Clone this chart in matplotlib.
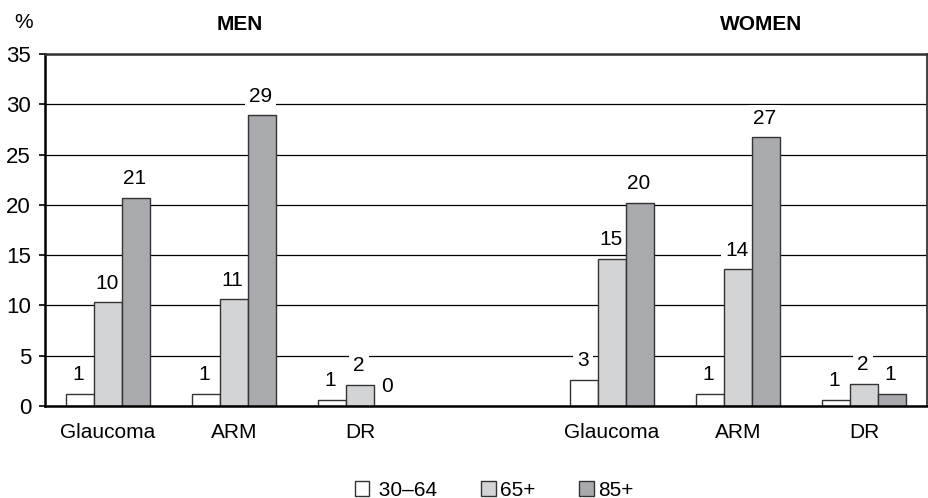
import numpy as np
import matplotlib
matplotlib.use('Agg')
import matplotlib.pyplot as plt
from matplotlib.patches import Patch

plt.rcParams['font.family'] = ['Liberation Sans', 'DejaVu Sans']

diseases = ['Glaucoma', 'ARM', 'DR']
ages = [' 30\u201364', '65+', '85+']

# prevalence (%) by age group
men_30_64 = [1.2, 1.2, 0.6]
men_65 = [10.3, 10.6, 2.1]
men_85 = [20.7, 28.9, 0.0]
women_30_64 = [2.6, 1.2, 0.6]
women_65 = [14.6, 13.6, 2.2]
women_85 = [20.2, 26.7, 1.2]

colors = ['#ffffff', '#d3d4d6', '#a9aaad']
FS = 15

def main():
    fig = plt.figure(figsize=(9.29, 4.98), dpi=100)
    ax = fig.add_axes([45/929, 1-406/498, 882/929, 352/498])

    # men at 0..2, women at 4..6 (gap of one slot between)
    x_pos = np.array([0, 1, 2, 4, 5, 6])
    series = [men_30_64 + women_30_64, men_65 + women_65, men_85 + women_85]
    w = 0.222

    for i, vals in enumerate(series):
        xs = x_pos + (i - 1) * w
        ax.bar(xs, vals, width=w, color=colors[i], edgecolor='#333333',
               linewidth=1.0, zorder=2)
        for x, v in zip(xs, vals):
            ax.annotate(f'{round(v):d}', (x, v), xytext=(-1, 7),
                        textcoords='offset points', ha='center', va='bottom',
                        fontsize=FS, zorder=1.5,
                        bbox=dict(boxstyle='square,pad=0.2', fc='white', ec='none'))

    ax.set_xlim(-0.5, 6.5)
    ax.set_ylim(0, 35)
    ax.set_yticks(range(0, 36, 5))
    ax.set_xticks(x_pos)
    ax.set_xticklabels(diseases * 2)
    ax.tick_params(axis='y', length=4, width=1.2, labelsize=16, pad=6)
    ax.tick_params(axis='x', length=0, labelsize=FS, pad=12)

    ax.set_axisbelow(True)
    ax.yaxis.grid(True, color='black', linewidth=0.9)

    ax.spines['left'].set_linewidth(1.8)
    ax.spines['bottom'].set_linewidth(1.8)
    ax.spines['top'].set_linewidth(1.8)
    ax.spines['top'].set_color('#333333')
    ax.spines['right'].set_linewidth(1.3)
    ax.spines['right'].set_color('#333333')

    fig.text(24/929, 1-23/498, '%', ha='center', va='center', fontsize=FS)
    fig.text(240/929, 1-24/498, 'MEN', ha='center', va='center',
             fontsize=FS, fontweight='bold')
    fig.text(761/929, 1-24/498, 'WOMEN', ha='center', va='center',
             fontsize=FS, fontweight='bold')

    handles = [Patch(facecolor=c, edgecolor='#333333', linewidth=1.0) for c in colors]
    fig.legend(handles, ages, loc='center', bbox_to_anchor=(494/929, 1-490/498),
               ncol=3, frameon=False, fontsize=FS, handlelength=0.7,
               handleheight=0.7, handletextpad=0.2, columnspacing=2.1,
               borderpad=0.1)

    fig.savefig('out.png', dpi=100)

if __name__ == '__main__':
    main()
